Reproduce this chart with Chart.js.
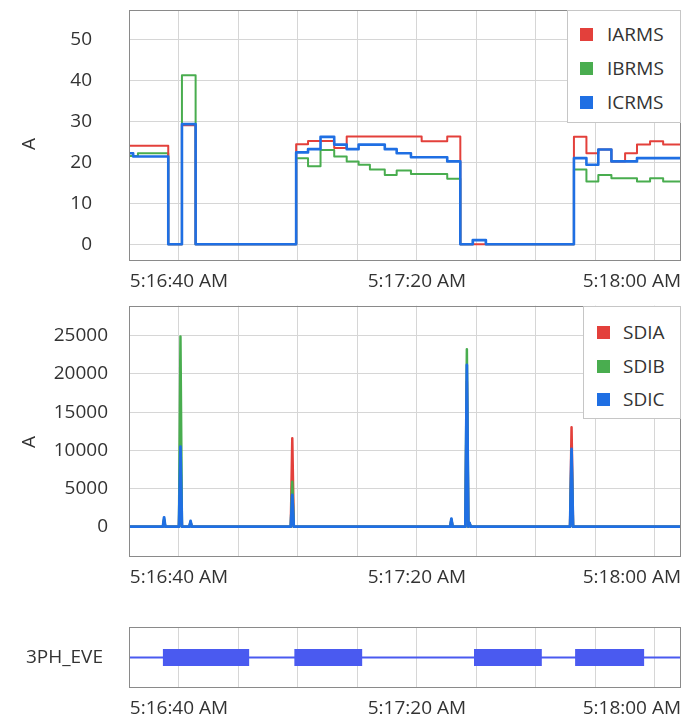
<!DOCTYPE html>
<html>
<head>
<meta charset="utf-8">
<script src="https://cdn.jsdelivr.net/npm/chart.js@4"></script>
<style>
  body { margin: 0; background: #fff; font-family: "Open Sans", sans-serif; }
  .panel { position: absolute; left: 0; width: 694px; }
  .legend { position: absolute; background: #fff; border: 1px solid #c6c6c6; box-sizing: border-box; color: #333; font-size: 19px; }
  .legend div { position: absolute; white-space: nowrap; line-height: 22px; }
  .legend span { position: absolute; width: 13px; height: 13px; }
  .unit { position: absolute; color: #333; font-size: 19px; line-height: 22px; transform: translate(-50%, -50%) rotate(-90deg); }
</style>
</head>
<body>
<div class="panel" style="top:0;height:300px"><canvas id="rms"></canvas></div>
<div class="panel" style="top:295px;height:305px"><canvas id="sdi"></canvas></div>
<div class="panel" style="top:600px;height:119px"><canvas id="eve"></canvas></div>
<div id="legRms" class="legend" style="left:567px;top:10px;width:114px;height:113px"></div>
<div id="legSdi" class="legend" style="left:583px;top:306px;width:98px;height:113px"></div>
<div class="unit" style="left:28px;top:144px">A</div>
<div class="unit" style="left:28px;top:442px">A</div>

<script>
// time = seconds after 5:16:00 AM
const xMin = 31.6;
const xMax = 124.4;
const gridSeconds = [40, 50, 60, 70, 80, 90, 100, 110, 120];
const xLabelSeconds = [40, 80, 120];
const xLabels = ["5:16:40 AM", "5:17:20 AM", "5:18:00 AM"];

// RMS currents (stepped)
const rmsNames = ["IARMS", "IBRMS", "ICRMS"];
const rmsTicks = [0, 10, 20, 30, 40, 50];
const rmsTimes = [31.6, 32.3, 33.1, 38.2, 40.5, 42.8, 59.7, 61.7, 63.8, 66.1, 68.2, 70.2, 72.1, 74.6, 76.6, 79.0, 80.8, 85.1, 87.3, 89.4, 91.6, 106.4, 108.5, 110.5, 112.7, 115.0, 117.0, 119.2, 121.4, 124.4];
const iaRms = [24.0, 24.0, 24.0, 0, 29.0, 0, 24.4, 25.2, 25.2, 23.5, 26.3, 26.3, 26.3, 26.3, 26.3, 26.3, 25.1, 26.3, 0, 0, 0, 26.2, 22.2, 23.1, 20.2, 22.2, 24.3, 25.1, 24.3, 24.3];
const ibRms = [21.5, 21.5, 22.2, 0, 41.2, 0, 21.0, 19.0, 23.0, 21.4, 20.2, 19.4, 18.2, 16.9, 18.0, 17.1, 17.1, 16.0, 0, 1.0, 0, 18.2, 15.3, 16.9, 16.1, 16.1, 15.3, 16.1, 15.3, 15.3];
const icRms = [22.2, 21.4, 21.4, 0, 29.3, 0, 22.4, 23.2, 26.2, 24.3, 23.2, 24.3, 24.3, 23.2, 22.2, 21.2, 21.2, 20.2, 0, 1.0, 0, 21.0, 19.4, 23.1, 20.2, 20.2, 21.0, 21.0, 21.0, 21.0];

// SDI currents (spikes)
const sdiNames = ["SDIA", "SDIB", "SDIC"];
const sdiTicks = [0, 5000, 10000, 15000, 20000, 25000];
const sdiTimes = [31.6, 37.3, 37.5, 37.7, 40.0, 40.25, 40.5, 41.75, 41.95, 42.15, 58.8, 59.05, 59.3, 85.6, 85.8, 86.0, 88.15, 88.4, 88.65, 88.85, 89.05, 105.75, 106.0, 106.25, 124.4];
const sdiA = [0, 0, 800, 0, 0, 9000, 0, 0, 600, 0, 0, 11570, 0, 0, 900, 0, 0, 19000, 0, 400, 0, 0, 13010, 0, 0];
const sdiB = [0, 0, 1000, 0, 0, 24900, 0, 0, 650, 0, 0, 5890, 0, 0, 950, 0, 0, 23220, 0, 450, 0, 0, 9500, 0, 0];
const sdiC = [0, 0, 1230, 0, 0, 10470, 0, 0, 750, 0, 0, 4150, 0, 0, 1050, 0, 0, 21170, 0, 500, 0, 0, 10170, 0, 0];

// 3PH_EVE event spans
const eventName = "3PH_EVE";
const eventStarts = [37.3, 59.4, 89.6, 106.6];
const eventEnds = [51.8, 70.8, 101.0, 118.2];

const RED = "#e3403b";
const GREEN = "#49ad4f";
const BLUE = "#1f6fe3";
const EVE = "#4a5af0";
const GRID = "#d6d6d6";
const TEXT = "#333";
const tickFont = { family: "Open Sans", size: 19 };

const framePlugin = {
  id: "frame",
  afterDraw(chart) {
    const a = chart.chartArea;
    const ctx = chart.ctx;
    ctx.save();
    ctx.strokeStyle = "#8a8a8a";
    ctx.lineWidth = 1;
    ctx.strokeRect(Math.round(a.left) + 0.5, Math.round(a.top) + 0.5,
      Math.round(a.right - a.left) - 1, Math.round(a.bottom - a.top) - 1);
    ctx.restore();
  }
};

const timeLabelPlugin = {
  id: "timeLabels",
  afterDraw(chart) {
    const x = chart.scales.x;
    const a = chart.chartArea;
    const ctx = chart.ctx;
    ctx.save();
    ctx.font = '19px "Open Sans"';
    ctx.fillStyle = TEXT;
    ctx.textBaseline = "middle";
    xLabelSeconds.forEach((t, i) => {
      const w = ctx.measureText(xLabels[i]).width;
      let left = x.getPixelForValue(t) - w / 2;
      left = Math.min(left, a.right - w);
      ctx.fillText(xLabels[i], left, a.bottom + 21);
    });
    ctx.restore();
  }
};

// keep tick labels from pushing the plot area around
function noPadding(s) {
  s.paddingTop = 0;
  s.paddingBottom = 0;
  s.paddingLeft = 0;
  s.paddingRight = 0;
}

function timeAxis(height) {
  return {
    type: "linear",
    min: xMin,
    max: xMax,
    afterBuildTicks: (s) => { s.ticks = gridSeconds.map((v) => ({ value: v })); },
    ticks: { display: false },
    grid: { color: GRID, drawTicks: false },
    border: { display: false },
    afterFit: (s) => { s.height = height; noPadding(s); }
  };
}

function valueAxis(min, max, tickValues, pad) {
  return {
    min: min,
    max: max,
    afterBuildTicks: (s) => { s.ticks = tickValues.map((v) => ({ value: v })); },
    ticks: { padding: pad, color: TEXT, font: tickFont, callback: (v) => String(v) },
    grid: { color: GRID, drawTicks: false },
    border: { display: false },
    afterFit: (s) => { s.width = 129; noPadding(s); }
  };
}

function series(label, times, values, color, width, order, stepped) {
  return {
    label: label,
    data: times.map((t, i) => ({ x: t, y: values[i] })),
    borderColor: color,
    backgroundColor: color,
    borderWidth: width,
    borderJoinStyle: "round",
    pointRadius: 0,
    stepped: stepped,
    order: order
  };
}

function baseOptions(padTop, xHeight, y) {
  return {
    responsive: true,
    maintainAspectRatio: false,
    animation: false,
    layout: { padding: { top: padTop, right: 13, left: 0, bottom: 0 }, autoPadding: false },
    plugins: { legend: { display: false }, tooltip: { enabled: false } },
    scales: { x: timeAxis(xHeight), y: y }
  };
}

new Chart(document.getElementById("rms"), {
  type: "line",
  data: {
    datasets: [
      series(rmsNames[0], rmsTimes, iaRms, RED, 2, 1, true),
      series(rmsNames[1], rmsTimes, ibRms, GREEN, 2, 2, true),
      series(rmsNames[2], rmsTimes, icRms, BLUE, 2.6, 0, true)
    ]
  },
  options: baseOptions(10, 39, valueAxis(-4.1, 57.15, rmsTicks, 37)),
  plugins: [framePlugin, timeLabelPlugin]
});

new Chart(document.getElementById("sdi"), {
  type: "line",
  data: {
    datasets: [
      series(sdiNames[0], sdiTimes, sdiA, RED, 2.5, 2, false),
      series(sdiNames[1], sdiTimes, sdiB, GREEN, 2.5, 1, false),
      series(sdiNames[2], sdiTimes, sdiC, BLUE, 2.8, 0, false)
    ]
  },
  options: baseOptions(10.7, 43.3, valueAxis(-3930, 28930, sdiTicks, 21)),
  plugins: [framePlugin, timeLabelPlugin]
});

// event bars: one segment per event, plus the thin base line
const eventSegments = [];
eventStarts.forEach((s, i) => {
  eventSegments.push({ x: s, y: 0 }, { x: eventEnds[i], y: 0 }, { x: eventEnds[i], y: null });
});
const eveY = {
  min: -1,
  max: 1,
  afterBuildTicks: (s) => { s.ticks = [{ value: 0 }]; },
  ticks: { padding: 18, color: TEXT, font: tickFont, callback: () => eventName },
  grid: { display: false },
  border: { display: false },
  afterFit: (s) => { s.width = 129; noPadding(s); }
};
new Chart(document.getElementById("eve"), {
  type: "line",
  data: {
    datasets: [
      { label: eventName, data: eventSegments, borderColor: EVE, borderWidth: 17, pointRadius: 0, spanGaps: false, borderCapStyle: "butt", order: 0 },
      { label: "base", data: [{ x: xMin, y: 0 }, { x: xMax, y: 0 }], borderColor: EVE, borderWidth: 2, pointRadius: 0, order: 1 }
    ]
  },
  options: baseOptions(27, 31, eveY),
  plugins: [framePlugin, timeLabelPlugin]
});

function buildLegend(id, names, colors, rowY, boxX, textX) {
  const el = document.getElementById(id);
  names.forEach((name, i) => {
    const sw = document.createElement("span");
    sw.style.left = boxX + "px";
    sw.style.top = (rowY[i] - 7) + "px";
    sw.style.background = colors[i];
    const tx = document.createElement("div");
    tx.textContent = name;
    tx.style.left = textX + "px";
    tx.style.top = (rowY[i] - 12) + "px";
    el.append(sw, tx);
  });
}
buildLegend("legRms", rmsNames, [RED, GREEN, BLUE], [24, 58, 92], 12, 39);
buildLegend("legSdi", sdiNames, [RED, GREEN, BLUE], [26, 60, 93], 13, 39);
</script>
</body>
</html>
